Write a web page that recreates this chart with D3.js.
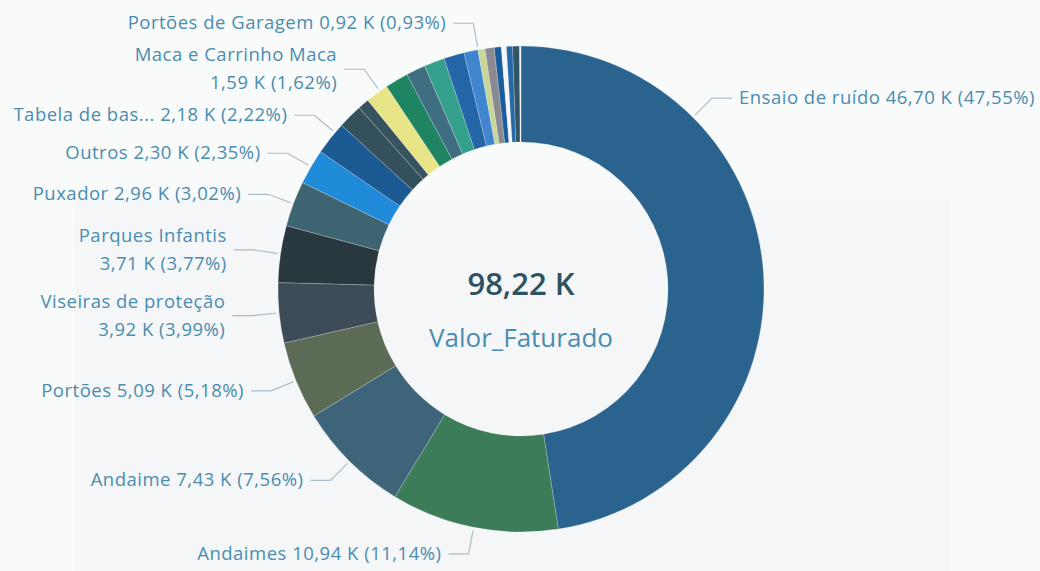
<!DOCTYPE html>
<html>
<head>
<meta charset="utf-8">
<script src="https://cdn.jsdelivr.net/npm/d3@7"></script>
<style>
  html, body { margin: 0; padding: 0; background: #f9fafa; }
  svg { display: block; }
</style>
</head>
<body>
<svg id="chart" width="1040" height="571"></svg>
<script>
// Valor_Faturado per product, in K, clockwise from 12 o'clock as the report draws them.
// Empty names are the thin slices that carry no label in the picture.
const categories = [
  "Ensaio de ruído", "Andaimes", "Andaime", "Portões", "Viseiras de proteção",
  "Parques Infantis", "Puxador", "Outros", "Tabela de bas...", "Maca e Carrinho Maca",
  "", "", "", "", "", "",
  "Portões de Garagem",
  "", "", "", "", "", "", ""
];
const values = [
  46.70, 10.94, 7.43, 5.09, 3.92,
  3.706, 2.963, 2.304, 2.18, 1.59,
  0.74, 1.50, 1.52, 1.26, 1.34, 1.33,
  0.917,
  0.46, 0.60, 0.46, 0.33, 0.40, 0.45, 0.09
];
// labels that the report wraps onto two lines
const twoLine = ["Maca e Carrinho Maca", "Parques Infantis", "Viseiras de proteção"];
const measureName = "Valor_Faturado";

const palette = [
  "#2b638f", "#3c7c58", "#3e6479", "#5c6b55", "#3c4b57",
  "#29373f", "#3e6371", "#1f8bd9", "#1c5a93", "#35505d",
  "#37535f", "#e8e488", "#1f8462", "#3f6d82", "#34a08b", "#2365a6",
  "#3f86cf",
  "#c8d69a", "#8b8a93", "#1b5d9c", "#f3f5f6", "#2768a6", "#2f5566", "#f3f5f6"
];

const W = 1040, H = 571;
const cx = 521, cy = 289;
const rOuter = 243, rInner = 147, rElbow = 270;
const lineH = 28;
const labelColor = "#4a8db0";
const font = "'Segoe UI', 'Open Sans', sans-serif";
const labelFont = `18.5px ${font}`;

const rows = categories.map((name, i) => ({ name, value: values[i], color: palette[i] }));
const total = d3.sum(values);
const ptBR = d3.formatLocale({ decimal: ",", thousands: ".", grouping: [3], currency: ["R$", ""] });
const fmt = ptBR.format(".2f");

const svg = d3.select("#chart");

// faint panel of the scanned report
svg.append("rect").attr("x", 0).attr("y", 0).attr("width", W).attr("height", H).attr("fill", "#f9fafa");
svg.append("rect").attr("x", 75).attr("y", 200).attr("width", 875).attr("height", H - 200).attr("fill", "#f5f6f7");

const pie = d3.pie().sort(null).value(d => d.value);
const arcs = pie(rows);
const arc = d3.arc().innerRadius(rInner).outerRadius(rOuter);

const g = svg.append("g").attr("transform", `translate(${cx},${cy})`);
g.selectAll("path")
  .data(arcs)
  .join("path")
  .attr("d", arc)
  .attr("fill", d => d.data.color)
  .attr("stroke", "#ffffff")
  .attr("stroke-opacity", 0.35)
  .attr("stroke-width", 0.6);

// centre total
g.append("text")
  .attr("text-anchor", "middle")
  .attr("y", 6)
  .attr("fill", "#2e5262")
  .style("font", `600 31px ${font}`)
  .text(`${fmt(total)} K`);
g.append("text")
  .attr("text-anchor", "middle")
  .attr("y", 58)
  .attr("fill", labelColor)
  .style("font", `26px ${font}`)
  .text(measureName);

// ---- outside labels, Power BI style ----
const measurer = svg.append("text")
  .style("font", labelFont).style("letter-spacing", "0.5px")
  .attr("visibility", "hidden");
const textWidth = s => { measurer.text(s); return measurer.node().getComputedTextLength(); };

const labels = arcs.filter(d => d.data.name).map(d => {
  const valueText = `${fmt(d.data.value)} K (${fmt(d.data.value / total * 100)}%)`;
  const lines = twoLine.includes(d.data.name)
    ? [d.data.name, valueText]
    : [`${d.data.name} ${valueText}`];
  const mid = (d.startAngle + d.endAngle) / 2;
  const w = d3.max(lines, textWidth);
  let angle = mid;
  const right = mid < Math.PI;
  if (right) {
    // slide the label toward the slice start until it fits in the frame
    const room = (W - 5 - 27 - w - cx) / rElbow;
    if (Math.sin(angle) > room) angle = Math.max(d.startAngle, Math.asin(Math.max(-1, Math.min(1, room))));
  }
  return { d, lines, mid, angle, right, y: cy - rElbow * Math.cos(angle) };
});
measurer.remove();

// push left-side labels upward so they do not overlap
const half = n => 19 + (n - 1) * 8;
const left = labels.filter(l => !l.right).sort((a, b) => b.y - a.y);
for (let i = 1; i < left.length; i++) {
  const lim = left[i - 1].y - half(left[i - 1].lines.length) - half(left[i].lines.length);
  if (left[i].y > lim) left[i].y = lim;
}

labels.forEach(l => {
  const dy = cy - l.y;
  let ex, theta;
  if (Math.abs(dy) < rElbow) {
    const a = Math.acos(dy / rElbow);
    theta = l.right ? a : 2 * Math.PI - a;
    ex = cx + rElbow * Math.sin(theta);
  } else {
    theta = l.mid;
    ex = cx + Math.sin(theta) * dy / Math.cos(theta);
  }
  l.anchor = [cx + (rOuter + 3) * Math.sin(theta), cy - (rOuter + 3) * Math.cos(theta)];
  l.elbow = [ex, l.y];
  const dir = l.right ? 1 : -1;
  l.end = [ex + dir * 20, l.y];
  l.tx = ex + dir * 27;
});

const lab = svg.append("g");
lab.selectAll("polyline")
  .data(labels)
  .join("polyline")
  .attr("points", l => [l.anchor, l.elbow, l.end].map(p => p.join(",")).join(" "))
  .attr("fill", "none")
  .attr("stroke", "#a9bcc8")
  .attr("stroke-width", 1.2);

const tg = lab.selectAll("text")
  .data(labels)
  .join("text")
  .attr("text-anchor", l => (l.right ? "start" : "end"))
  .attr("fill", labelColor)
  .style("font", labelFont)
  .style("letter-spacing", "0.5px");
tg.selectAll("tspan")
  .data(l => l.lines.map((s, i) => ({ s, i, l })))
  .join("tspan")
  .attr("x", t => t.l.tx)
  .attr("y", t => t.l.y + (t.i - (t.l.lines.length - 1) / 2) * lineH + 6)
  .text(t => t.s);
</script>
</body>
</html>
